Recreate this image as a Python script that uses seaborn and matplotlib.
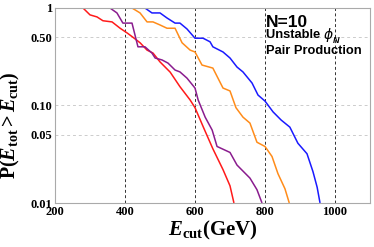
import numpy as np
import pandas as pd
import matplotlib
matplotlib.use("Agg")
import matplotlib.pyplot as plt
from matplotlib.ticker import FixedLocator, NullFormatter, LogLocator
import seaborn as sns

################ DATA ################
red_x = [200, 280, 300, 320, 337, 363, 386, 406, 423, 443, 463, 480, 500, 529, 557, 586, 600, 623, 651, 680, 700, 711]
red_y = [1, 1, 0.85, 0.81, 0.74, 0.72, 0.62, 0.555, 0.50, 0.44, 0.37, 0.345, 0.28, 0.22, 0.156, 0.114, 0.095, 0.061, 0.036, 0.022, 0.015, 0.0101]

purple_x = [200, 357, 377, 394, 420, 437, 457, 477, 486, 506, 523, 543, 557, 577, 600, 609, 629, 649, 663, 700, 720, 757, 777, 791]
purple_y = [1, 1, 0.89, 0.70, 0.70, 0.40, 0.40, 0.345, 0.307, 0.293, 0.272, 0.231, 0.221, 0.191, 0.151, 0.114, 0.076, 0.056, 0.038, 0.033, 0.0245, 0.018, 0.0137, 0.0101]

orange_x = [200, 420, 443, 463, 480, 500, 520, 543, 563, 586, 600, 620, 651, 680, 700, 717, 737, 757, 777, 800, 820, 837, 857, 869]
orange_y = [1, 1, 0.89, 0.72, 0.72, 0.67, 0.62, 0.62, 0.44, 0.37, 0.354, 0.26, 0.242, 0.151, 0.141, 0.095, 0.076, 0.066, 0.042, 0.038, 0.030, 0.020, 0.014, 0.0101]

blue_x = [200, 457, 477, 500, 520, 543, 557, 577, 600, 623, 643, 651, 680, 700, 720, 737, 763, 780, 800, 823, 846, 871, 894, 920, 937, 949, 957]
blue_y = [1, 1, 0.89, 0.89, 0.79, 0.70, 0.70, 0.61, 0.49, 0.49, 0.45, 0.40, 0.354, 0.307, 0.248, 0.221, 0.17, 0.128, 0.111, 0.086, 0.071, 0.060, 0.041, 0.032, 0.021, 0.0145, 0.0101]

x_ticks = [200, 400, 600, 800, 1000]
y_ticks = [0.01, 0.05, 0.10, 0.50, 1]
y_tick_labels = ["0.01", "0.05", "0.10", "0.50", "1"]
v_lines = [400, 600, 800, 1000]
h_lines = [0.05, 0.10, 0.50]

curves = {
    "red": (red_x, red_y),
    "purple": (purple_x, purple_y),
    "orange": (orange_x, orange_y),
    "blue": (blue_x, blue_y),
}
colors = {"red": "#FF1A1A", "purple": "#8A1C8E", "orange": "#FF8C1A", "blue": "#1A1AFF"}

df = pd.concat(
    [pd.DataFrame({"E": xs, "P": ys, "curve": name}) for name, (xs, ys) in curves.items()],
    ignore_index=True,
)

################ STYLE ################
sns.set_style("white")
plt.rcParams["font.family"] = ["Liberation Serif", "DejaVu Serif"]
plt.rcParams["mathtext.fontset"] = "custom"
plt.rcParams["mathtext.rm"] = "Liberation Serif:bold"
plt.rcParams["mathtext.it"] = "Liberation Serif:italic:bold"
plt.rcParams["mathtext.bf"] = "Liberation Serif:bold"
plt.rcParams["text.color"] = "black"
plt.rcParams["axes.labelcolor"] = "black"
plt.rcParams["xtick.labelcolor"] = "black"
plt.rcParams["ytick.labelcolor"] = "black"

fig = plt.figure(figsize=(3.74, 2.47), dpi=100)
ax = fig.add_axes([55 / 374, 1 - 203 / 247, 315 / 374, 195 / 247])

################ PLOT ################
sns.lineplot(data=df, x="E", y="P", hue="curve", palette=colors, sort=False,
             estimator=None, linewidth=1.1, legend=False, ax=ax)

ax.set_yscale("log")
ax.set_xlim(200, 1100)
ax.set_ylim(0.01, 1)

for v in v_lines:
    ax.axvline(v, color="#333333", linestyle=(0, (3, 2.5)), linewidth=0.7, zorder=0)
for h in h_lines:
    ax.axhline(h, color="#CCCCCC", linestyle=(0, (3, 3)), linewidth=0.7, zorder=0)

ax.xaxis.set_major_locator(FixedLocator(x_ticks))
ax.xaxis.set_minor_locator(FixedLocator(np.arange(200, 1101, 50)))
ax.yaxis.set_major_locator(FixedLocator(y_ticks))
ax.yaxis.set_minor_locator(LogLocator(base=10, subs=np.arange(2, 10)))
ax.yaxis.set_minor_formatter(NullFormatter())
ax.set_yticklabels(y_tick_labels)
ax.set_xticklabels([str(t) for t in x_ticks])

for lab in ax.get_xticklabels() + ax.get_yticklabels():
    lab.set_fontweight("bold")
    lab.set_fontsize(9)

ax.tick_params(which="both", direction="in", color="#999999", width=0.6)
ax.tick_params(which="major", length=4, pad=2)
ax.tick_params(which="minor", length=2)
for s in ax.spines.values():
    s.set_color("#AAAAAA")
    s.set_linewidth(0.8)

ax.set_xlabel(r"$E_{\mathrm{cut}}\mathrm{(GeV)}$", fontsize=15, labelpad=1)
ax.set_ylabel(r"$\mathrm{P}(E_{\mathrm{tot}}>E_{\mathrm{cut}})$", fontsize=14.5)
ax.yaxis.set_label_coords(-0.105, 0.40)

################ ANNOTATION ################
sans = ["Liberation Sans", "DejaVu Sans"]
ax.text(0.67, 0.925, "N=10", transform=ax.transAxes, fontsize=12.5, fontweight="bold",
        family=sans, va="center", ha="left")
t1 = ax.text(0.67, 0.862, "Unstable ", transform=ax.transAxes, fontsize=9.3,
             fontweight="bold", family=sans, va="center", ha="left")
phi = ax.annotate("ϕ", xy=(1, 0.5), xycoords=t1, va="center", ha="left",
                  fontsize=10, fontstyle="italic", family=["DejaVu Sans"])
ax.annotate("N", xy=(0.97, 0.12), xycoords=phi, va="center", ha="left",
            fontsize=6.5, fontstyle="italic", fontweight="bold", family=sans)
ax.text(0.67, 0.78, "Pair Production", transform=ax.transAxes, fontsize=9.3,
        fontweight="bold", family=sans, va="center", ha="left")

fig.savefig("out.png", dpi=100)
